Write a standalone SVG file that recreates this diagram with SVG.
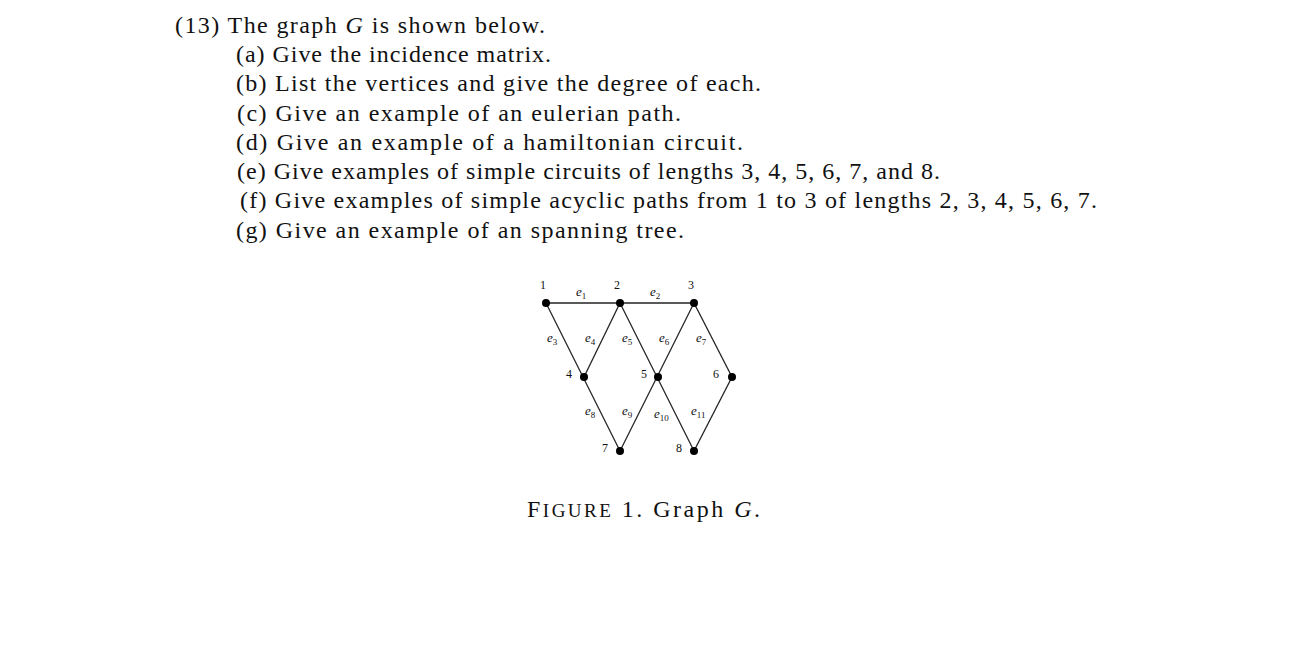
<svg xmlns="http://www.w3.org/2000/svg" width="1290" height="668" viewBox="0 0 1290 668">
<style>
text{font-family:"Liberation Serif","DejaVu Serif",serif;fill:#111}
.t{font-size:24px}
.n{font-size:12px}
.e{font-size:13px;font-style:italic}
.s{font-size:9px;font-style:normal}
line{stroke:#222;stroke-width:1.3}
circle{fill:#000}
</style>
<rect width="1290" height="668" fill="#fff"/>
<g id="text">
<text class="t" x="175" y="33" textLength="370" lengthAdjust="spacing">(13) The graph <tspan font-style="italic">G</tspan> is shown below.</text>
<text class="t" x="236" y="62" textLength="315" lengthAdjust="spacing">(a) Give the incidence matrix.</text>
<text class="t" x="236" y="91" textLength="525" lengthAdjust="spacing">(b) List the vertices and give the degree of each.</text>
<text class="t" x="237" y="121" textLength="444" lengthAdjust="spacing">(c) Give an example of an eulerian path.</text>
<text class="t" x="236" y="150" textLength="507" lengthAdjust="spacing">(d) Give an example of a hamiltonian circuit.</text>
<text class="t" x="237" y="179" textLength="703" lengthAdjust="spacing">(e) Give examples of simple circuits of lengths 3, 4, 5, 6, 7, and 8.</text>
<text class="t" x="240" y="208" textLength="857" lengthAdjust="spacing">(f) Give examples of simple acyclic paths from 1 to 3 of lengths 2, 3, 4, 5, 6, 7.</text>
<text class="t" x="236" y="238" textLength="448" lengthAdjust="spacing">(g) Give an example of an spanning tree.</text>
<text class="t" x="527" y="517" textLength="233" lengthAdjust="spacing">F<tspan font-size="19">IGURE</tspan> 1.  Graph <tspan font-style="italic">G</tspan>.</text>
</g>
<g id="edges">
<line x1="546" y1="303" x2="694" y2="303"/>
<line x1="546" y1="303" x2="620" y2="451"/>
<line x1="620" y1="303" x2="584" y2="377"/>
<line x1="620" y1="303" x2="694" y2="451"/>
<line x1="694" y1="303" x2="620" y2="451"/>
<line x1="694" y1="303" x2="732" y2="377"/>
<line x1="732" y1="377" x2="694" y2="451"/>
<text class="e" x="576" y="296">e<tspan class="s" dy="3">1</tspan></text>
<text class="e" x="650" y="296">e<tspan class="s" dy="3">2</tspan></text>
<text class="e" x="547" y="342">e<tspan class="s" dy="3">3</tspan></text>
<text class="e" x="585" y="342">e<tspan class="s" dy="3">4</tspan></text>
<text class="e" x="622" y="342">e<tspan class="s" dy="3">5</tspan></text>
<text class="e" x="659" y="342">e<tspan class="s" dy="3">6</tspan></text>
<text class="e" x="696" y="342">e<tspan class="s" dy="3">7</tspan></text>
<text class="e" x="585" y="415">e<tspan class="s" dy="3">8</tspan></text>
<text class="e" x="622" y="415">e<tspan class="s" dy="3">9</tspan></text>
<text class="e" x="654" y="418">e<tspan class="s" dy="3">10</tspan></text>
<text class="e" x="691" y="415">e<tspan class="s" dy="3">11</tspan></text>
</g>
<g id="n1"><circle cx="546" cy="303" r="4"/><text class="n" x="540" y="289">1</text></g>
<g id="n2"><circle cx="620" cy="303" r="4"/><text class="n" x="614" y="289">2</text></g>
<g id="n3"><circle cx="694" cy="303" r="4"/><text class="n" x="688" y="289">3</text></g>
<g id="n4"><circle cx="584" cy="377" r="4"/><text class="n" x="566" y="378">4</text></g>
<g id="n5"><circle cx="658" cy="377" r="4"/><text class="n" x="641" y="378">5</text></g>
<g id="n6"><circle cx="732" cy="377" r="4"/><text class="n" x="713" y="378">6</text></g>
<g id="n7"><circle cx="620" cy="451" r="4"/><text class="n" x="602" y="452">7</text></g>
<g id="n8"><circle cx="694" cy="451" r="4"/><text class="n" x="676" y="452">8</text></g>
</svg>
